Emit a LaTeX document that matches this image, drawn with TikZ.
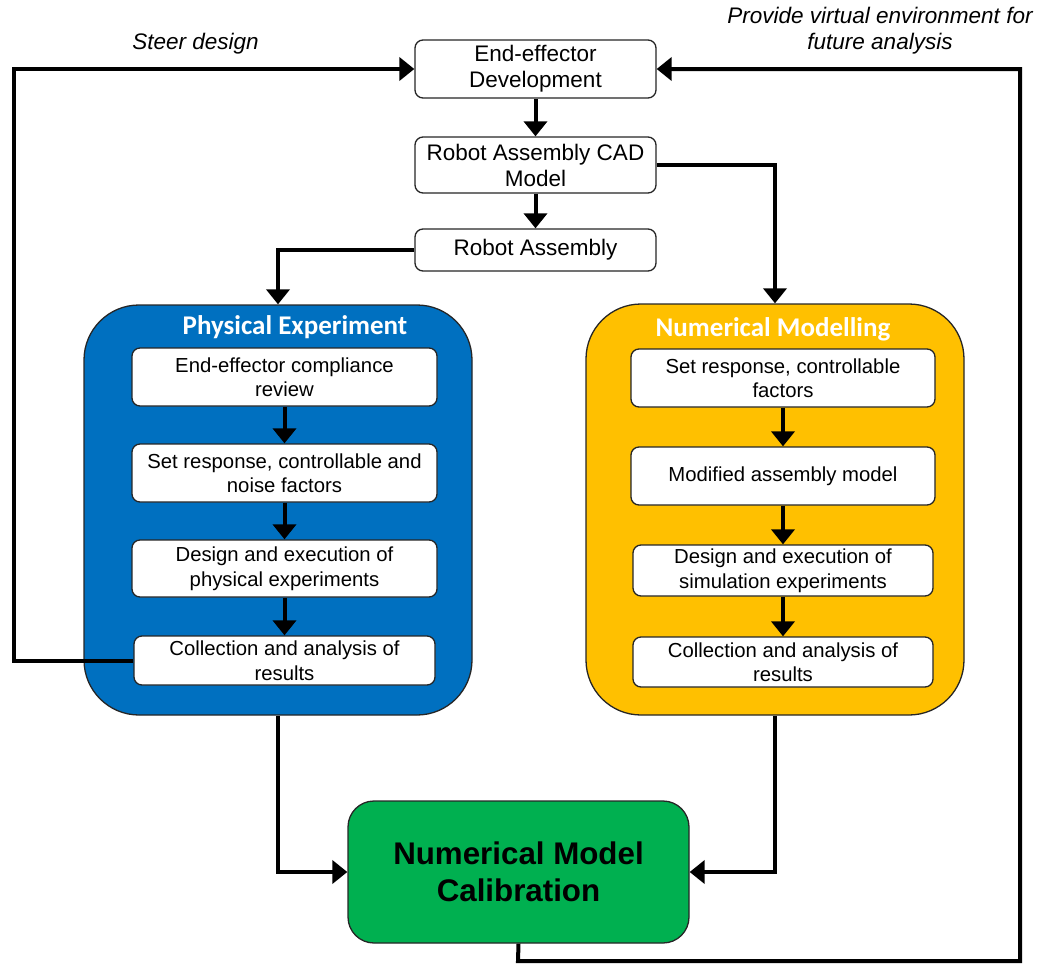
\documentclass[tikz,border=0pt]{standalone}
\usepackage{fontspec}
\setmainfont{Liberation Sans}
\newfontfamily\titlefont{Carlito}
\usetikzlibrary{arrows.meta}
\definecolor{pblue}{HTML}{0070C0}
\definecolor{nyellow}{HTML}{FFC000}
\definecolor{cgreen}{HTML}{00B050}
\tikzset{
  flowbox/.style={draw=black!85, line width=1.3pt, fill=white, rounded corners=8pt,
    align=center, inner sep=1pt, font=\fontsize{22.5}{26}\selectfont},
  innerbox/.style={draw=black!85, line width=1.3pt, fill=white, rounded corners=8pt,
    align=center, inner sep=1pt, font=\fontsize{20.3}{24.5}\selectfont},
  groupbox/.style={draw=black!85, line width=1.3pt, rounded corners=55pt},
  grouptitle/.style={text=white, font=\titlefont\bfseries\fontsize{27}{30}\selectfont},
  conn/.style={line width=4pt, -{Triangle[length=15pt,width=23pt]}},
  note/.style={font=\itshape\fontsize{22.5}{26}\selectfont, align=center}
}
\begin{document}
\begin{tikzpicture}[x=1pt,y=-1pt]
\useasboundingbox (0,0) rectangle (1037,964);

% group boxes
\node[groupbox, fill=pblue, minimum width=388pt, minimum height=410pt] (phys) at (278,510) {};
\node[groupbox, fill=nyellow, minimum width=378pt, minimum height=411pt] (num) at (775,509.5) {};
\node[grouptitle] (physt) at (295,327) {Physical Experiment};
\node[grouptitle] (numt) at (773,329) {Numerical Modelling};

% top boxes
\node[flowbox, minimum width=241pt, minimum height=58pt] (ee) at (535.5,69) {End-effector\\Development};
\node[flowbox, minimum width=241pt, minimum height=56pt] (cad) at (535.5,165) {Robot Assembly CAD\\Model};
\node[flowbox, minimum width=241pt, minimum height=42pt] (ra) at (535.5,250) {Robot Assembly};

% physical experiment steps
\node[innerbox, minimum width=305pt, minimum height=58pt] (b1) at (284.5,377) {End-effector compliance\\review};
\node[innerbox, minimum width=305pt, minimum height=58pt] (b2) at (284.5,473) {Set response, controllable and\\noise factors};
\node[innerbox, minimum width=305pt, minimum height=57pt] (b3) at (284.5,568.5) {Design and execution of\\physical experiments};
\node[innerbox, minimum width=301pt, minimum height=49pt] (b4) at (284.5,660.5) {Collection and analysis of\\results};

% numerical modelling steps
\node[innerbox, minimum width=304pt, minimum height=58pt] (y1) at (783,378) {Set response, controllable\\factors};
\node[innerbox, minimum width=304pt, minimum height=58pt] (y2) at (783,476) {Modified assembly model};
\node[innerbox, minimum width=300pt, minimum height=51pt] (y3) at (783,570.5) {Design and execution of\\simulation experiments};
\node[innerbox, minimum width=300pt, minimum height=50pt] (y4) at (783,662) {Collection and analysis of\\results};

% calibration
\node[draw=black!85, line width=1.3pt, fill=cgreen, rounded corners=26pt, minimum width=341pt, minimum height=142pt,
  align=center, font=\bfseries\fontsize{31.3}{37}\selectfont] (cal) at (518.5,872) {Numerical Model\\Calibration};

% labels
\node[note] (steer) at (195.5,44) {Steer design};
\node[note] (prov) at (880,31) {Provide virtual environment for\\future analysis};

% coordinates for connectors
\coordinate (tl) at (14,69);
\coordinate (br) at (518,961);
\coordinate (brr) at (1020,961);
\coordinate (tr) at (1020,69);

% top chain
\draw[conn] (ee.south) -- (cad.north);
\draw[conn] (cad.south) -- (ra.north);
\draw[conn] (ra.west) -| (phys.north);
\draw[conn] (cad.east) -| (num.north);

% inner chains
\draw[conn] (b1.south) -- (b2.north);
\draw[conn] (b2.south) -- (b3.north);
\draw[conn] (b3.south) -- (b4.north);
\draw[conn] (y1.south) -- (y2.north);
\draw[conn] (y2.south) -- (y3.north);
\draw[conn] (y3.south) -- (y4.north);

% to calibration
\draw[conn] (phys.south) |- (cal.west);
\draw[conn] (num.south) |- (cal.east);

% feedback loops
\draw[conn] (b4.west) -- (b4.west -| tl) -- (tl) -- (ee.west);
\draw[conn] (cal.south) -- (br) -- (brr) -- (tr) -- (ee.east);
\end{tikzpicture}
\end{document}
